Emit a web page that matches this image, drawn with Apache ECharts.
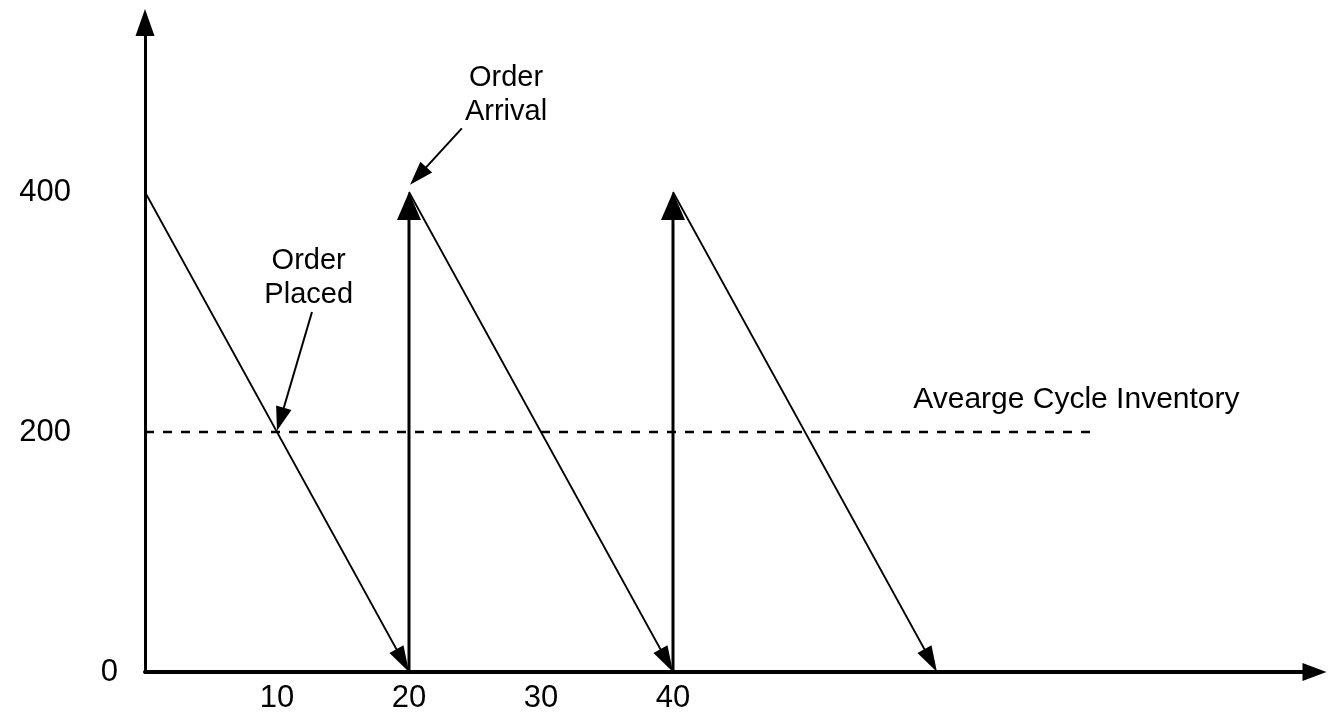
<!DOCTYPE html>
<html>
<head>
<meta charset="utf-8">
<script src="https://cdn.jsdelivr.net/npm/echarts@6/dist/echarts.min.js"></script>
<style>
  html, body { margin: 0; padding: 0; background: #fff; }
  #chart { width: 1328px; height: 714px; }
</style>
</head>
<body>
<div id="chart"></div>
<script>
// ---- data ----
const xTickLabels = [10, 20, 30, 40];
const yTickLabels = [0, 200, 400];
// inventory depletion segments [x1, y1, x2, y2]
const depletion = [
  [0, 400, 20, 0],
  [20, 400, 40, 0],
  [40, 400, 60, 0]
];
// replenishment (order arrival) segments
const replenishment = [
  [20, 0, 20, 400],
  [40, 0, 40, 400]
];
// average cycle inventory
const averageInventory = [[0, 200], [72, 200]];
// annotation pointers
const pointers = [
  [12.65, 300, 10, 201],
  [24.0, 453, 20.08, 406]
];
const centeredNotes = [
  { name: 'Order\nPlaced', value: [12.4, 328] },
  { name: 'Order\nArrival', value: [27.35, 481] }
];
const leftNotes = [
  { name: 'Avearge Cycle Inventory', value: [58.2, 227] }
];

const FONT = 'Liberation Sans, Arial, sans-serif';

function arrowSeries(data, lineWidth, headLen, headWidth) {
  return {
    type: 'custom',
    coordinateSystem: 'cartesian2d',
    clip: false,
    silent: true,
    encode: { x: [0, 2], y: [1, 3] },
    data: data,
    renderItem: function (params, api) {
      const p1 = api.coord([api.value(0), api.value(1)]);
      const p2 = api.coord([api.value(2), api.value(3)]);
      const dx = p2[0] - p1[0], dy = p2[1] - p1[1];
      const len = Math.hypot(dx, dy);
      const ux = dx / len, uy = dy / len;
      const nx = -uy, ny = ux;
      const bx = p2[0] - ux * headLen, by = p2[1] - uy * headLen;
      const hw = headWidth / 2;
      return {
        type: 'group',
        children: [
          {
            type: 'line',
            shape: { x1: p1[0], y1: p1[1], x2: bx + ux * 2, y2: by + uy * 2 },
            style: { stroke: '#000', lineWidth: lineWidth }
          },
          {
            type: 'polygon',
            shape: { points: [[p2[0], p2[1]], [bx + nx * hw, by + ny * hw], [bx - nx * hw, by - ny * hw]] },
            style: { fill: '#000' }
          }
        ]
      };
    }
  };
}

const chart = echarts.init(document.getElementById('chart'));
chart.setOption({
  animation: false,
  backgroundColor: '#fff',
  grid: { left: 145, right: 13.5, top: 22.5, bottom: 42, containLabel: false },
  xAxis: {
    type: 'value',
    min: 0,
    max: 88.6,
    interval: 10,
    splitLine: { show: false },
    axisTick: { show: false },
    axisLine: {
      show: true,
      onZero: false,
      symbol: ['none', 'triangle'],
      symbolSize: [18, 24],
      lineStyle: { color: '#000', width: 4 }
    },
    axisLabel: {
      show: true,
      margin: 11,
      color: '#000',
      fontFamily: FONT,
      fontSize: 31,
      showMaxLabel: false,
      formatter: function (v) { return xTickLabels.indexOf(v) >= 0 ? String(v) : ''; }
    }
  },
  yAxis: {
    type: 'value',
    min: 0,
    max: 541.25,
    interval: 200,
    splitLine: { show: false },
    axisTick: { show: false },
    axisLine: {
      show: true,
      onZero: false,
      symbol: ['none', 'triangle'],
      symbolSize: [19, 27],
      lineStyle: { color: '#000', width: 3 }
    },
    axisLabel: {
      show: true,
      margin: 27,
      color: '#000',
      fontFamily: FONT,
      fontSize: 31,
      showMaxLabel: false,
      formatter: function (v) {
        if (yTickLabels.indexOf(v) < 0) return '';
        return v === 0 ? '0' : '{w|' + v + '}';
      },
      rich: {
        w: { padding: [0, 47, 0, 0], fontFamily: FONT, fontSize: 31, color: '#000' }
      }
    }
  },
  series: [
    {
      type: 'line',
      data: averageInventory,
      symbol: 'none',
      silent: true,
      lineStyle: { color: '#000', width: 2.5, type: [9, 9] }
    },
    arrowSeries(depletion, 1.8, 26, 16),
    arrowSeries(replenishment, 3, 28, 24),
    arrowSeries(pointers, 2, 24, 16),
    {
      type: 'scatter',
      symbolSize: 0,
      silent: true,
      itemStyle: { opacity: 1, color: '#000' },
      data: centeredNotes,
      label: {
        show: true,
        position: 'inside',
        formatter: '{b}',
        color: '#000',
        opacity: 1,
        fontFamily: FONT,
        fontSize: 29,
        lineHeight: 34,
        align: 'center',
        verticalAlign: 'middle'
      }
    },
    {
      type: 'scatter',
      symbolSize: 0,
      silent: true,
      itemStyle: { opacity: 1, color: '#000' },
      data: leftNotes,
      label: {
        show: true,
        position: 'right',
        distance: 0,
        formatter: '{b}',
        color: '#000',
        opacity: 1,
        fontFamily: FONT,
        fontSize: 30
      }
    }
  ]
});
</script>
</body>
</html>
